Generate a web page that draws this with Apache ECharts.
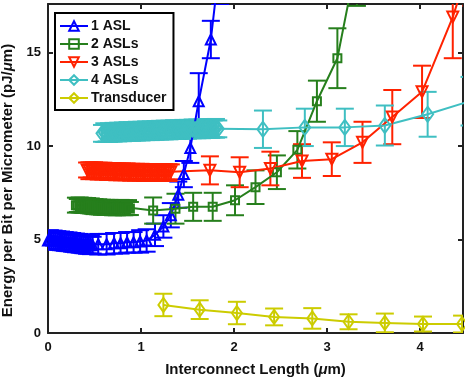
<!DOCTYPE html>
<html>
<head>
<meta charset="utf-8">
<script src="https://cdn.jsdelivr.net/npm/echarts@6/dist/echarts.min.js"></script>
<style>
  html, body { margin: 0; padding: 0; background: #fff; }
  #chart { width: 465px; height: 383px; }
</style>
</head>
<body>
<div id="chart"></div>
<script>
// 1 ASL: dense sweep, then the marked points
var asl1DenseX = [0.00,0.02,0.04,0.06,0.08,0.10,0.12,0.14,0.16,0.18,0.20,0.22,0.24,0.26,0.28,0.30,0.32,0.34,0.36,0.38,0.40,0.42,0.44,0.46,0.48];
var asl1DenseY = [4.95,5.00,4.95,4.98,4.93,4.95,4.90,4.93,4.88,4.90,4.85,4.88,4.83,4.85,4.80,4.82,4.78,4.80,4.75,4.77,4.72,4.74,4.70,4.72,4.70];
var asl1DenseE = [0.45,0.50,0.45,0.50,0.45,0.50,0.45,0.50,0.45,0.50,0.45,0.50,0.45,0.50,0.45,0.50,0.45,0.50,0.45,0.50,0.45,0.50,0.45,0.50,0.45];
var asl1X = [0.54,0.63,0.71,0.78,0.85,0.92,0.99,1.06,1.15,1.24,1.32,1.40,1.46,1.53,1.62,1.75,1.85];
var asl1Y = [4.75,4.75,4.80,4.80,4.85,4.85,4.90,4.95,5.25,5.70,6.30,7.40,8.50,9.90,12.40,15.70,20.00];
var asl1E = [0.55,0.55,0.55,0.55,0.55,0.55,0.60,0.60,0.60,0.60,0.65,0.70,0.70,0.80,1.50,1.00,2.40];

// 2 ASLs
var asl2DenseX = [0.30,0.32,0.34,0.36,0.38,0.40,0.42,0.44,0.46,0.48,0.50,0.52,0.54,0.56,0.58,0.60,0.62,0.64,0.66,0.68,0.70,0.72,0.74,0.76,0.78,0.80,0.82,0.84,0.86,0.88];
var asl2DenseY = [6.84,6.82,6.85,6.80,6.83,6.78,6.82,6.76,6.80,6.74,6.76,6.72,6.75,6.70,6.73,6.70,6.72,6.68,6.72,6.68,6.70,6.66,6.70,6.68,6.72,6.66,6.70,6.68,6.71,6.66];
var asl2DenseE = [0.40,0.35,0.40,0.35,0.40,0.35,0.40,0.35,0.40,0.35,0.40,0.35,0.40,0.35,0.40,0.35,0.40,0.35,0.40,0.35,0.40,0.35,0.40,0.35,0.40,0.35,0.40,0.35,0.40,0.35];
var asl2X = [1.13,1.37,1.56,1.77,2.01,2.23,2.46,2.68,2.89,3.11,3.32];
var asl2Y = [6.55,6.65,6.75,6.75,7.10,7.80,8.60,9.80,12.40,14.70,20.00];
var asl2E = [0.70,0.80,0.75,0.75,0.80,0.90,0.90,1.00,1.10,1.60,2.50];

// 3 ASLs
var asl3DenseX = [0.42,0.445,0.47,0.495,0.52,0.545,0.57,0.595,0.62,0.645,0.67,0.695,0.72,0.745,0.77,0.795,0.82,0.845,0.87,0.895,0.92,0.945,0.97,0.995,1.02,1.045,1.07,1.095,1.12,1.145,1.17,1.195,1.22,1.245,1.27,1.295,1.32];
var asl3DenseY = [8.72,8.68,8.72,8.68,8.70,8.66,8.70,8.66,8.68,8.64,8.68,8.64,8.66,8.62,8.66,8.62,8.65,8.62,8.64,8.60,8.64,8.60,8.63,8.60,8.62,8.58,8.62,8.58,8.62,8.58,8.60,8.58,8.62,8.58,8.60,8.58,8.62];
var asl3DenseE = [0.40,0.45,0.40,0.45,0.40,0.45,0.40,0.45,0.40,0.45,0.40,0.45,0.40,0.45,0.40,0.45,0.40,0.45,0.40,0.45,0.40,0.45,0.40,0.45,0.40,0.45,0.40,0.45,0.40,0.45,0.40,0.45,0.40,0.45,0.40,0.45,0.40];
var asl3X = [1.74,2.06,2.39,2.73,3.05,3.38,3.70,4.02,4.35,4.55];
var asl3Y = [8.70,8.60,8.80,9.20,9.30,10.20,11.55,12.90,16.90,20.00];
var asl3E = [0.75,0.80,0.90,0.90,0.90,1.10,1.45,1.40,2.20,2.50];

// 4 ASLs
var asl4DenseX = [0.58,0.605,0.63,0.655,0.68,0.705,0.73,0.755,0.78,0.805,0.83,0.855,0.88,0.905,0.93,0.955,0.98,1.005,1.03,1.055,1.08,1.105,1.13,1.155,1.18,1.205,1.23,1.255,1.28,1.305,1.33,1.355,1.38,1.405,1.43,1.455,1.48,1.505,1.53,1.555,1.58,1.605,1.63,1.655,1.68,1.705,1.73,1.755,1.78,1.805,1.83];
var asl4DenseY = [10.68,10.72,10.70,10.72,10.70,10.74,10.72,10.75,10.72,10.76,10.74,10.78,10.75,10.78,10.76,10.80,10.78,10.80,10.78,10.82,10.80,10.82,10.80,10.84,10.82,10.85,10.82,10.86,10.84,10.86,10.84,10.88,10.85,10.88,10.86,10.90,10.86,10.90,10.88,10.92,10.88,10.92,10.90,10.92,10.90,10.94,10.90,10.94,10.92,10.95,10.92];
var asl4DenseE = [0.45,0.50,0.45,0.50,0.45,0.50,0.45,0.50,0.45,0.50,0.45,0.50,0.45,0.50,0.45,0.50,0.45,0.50,0.45,0.50,0.45,0.50,0.45,0.50,0.45,0.50,0.45,0.50,0.45,0.50,0.45,0.50,0.45,0.50,0.45,0.50,0.45,0.50,0.45,0.50,0.45,0.50,0.45,0.50,0.45,0.50,0.45,0.50,0.45,0.50,0.45];
var asl4X = [2.31,2.76,3.19,3.62,4.08,4.53];
var asl4Y = [10.90,11.00,11.00,11.10,11.70,12.40];
var asl4E = [1.00,1.00,1.00,1.07,1.20,1.30];

// Transducer
var trX = [1.24,1.63,2.03,2.43,2.84,3.23,3.62,4.03,4.45];
var trY = [1.50,1.25,1.07,0.86,0.78,0.60,0.54,0.48,0.48];
var trE = [0.60,0.50,0.60,0.45,0.55,0.40,0.50,0.40,0.45];

var names = ['1 ASL', '2 ASLs', '3 ASLs', '4 ASLs', 'Transducer'];
var colors = ['#0000ff', '#267f1c', '#ff2200', '#3fbfc2', '#cccc00'];
var xTicks = [0, 1, 2, 3, 4];
var yTicks = [0, 5, 10, 15];

function pairs(xs, ys) {
    return xs.map(function (x, i) { return [x, ys[i]]; });
}
function bars(xs, ys, es) {
    return xs.map(function (x, i) { return [x, ys[i] - es[i], ys[i] + es[i]]; });
}

// error bars drawn with a custom series
function errorSeries(name, color, data) {
    return {
        name: name + ' err',
        type: 'custom',
        clip: true,
        silent: true,
        data: data,
        renderItem: function (params, api) {
            var x = api.value(0);
            var top = api.coord([x, api.value(2)]);
            var bot = api.coord([x, api.value(1)]);
            var w = 9;
            var st = { stroke: color, lineWidth: 2 };
            return {
                type: 'group',
                children: [
                    { type: 'line', shape: { x1: top[0], y1: top[1], x2: bot[0], y2: bot[1] }, style: st },
                    { type: 'line', shape: { x1: top[0] - w, y1: top[1], x2: top[0] + w, y2: top[1] }, style: st },
                    { type: 'line', shape: { x1: bot[0] - w, y1: bot[1], x2: bot[0] + w, y2: bot[1] }, style: st }
                ]
            };
        }
    };
}

function lineSeries(name, color, data, symbol, size, rotate) {
    return {
        name: name,
        type: 'line',
        data: data,
        symbol: symbol,
        symbolSize: size,
        symbolRotate: rotate || 0,
        showAllSymbol: true,
        clip: true,
        lineStyle: { color: color, width: 2 },
        itemStyle: { color: 'rgba(255,255,255,0)', borderColor: color, borderWidth: 2 }
    };
}

var sets = [
    [asl1DenseX.concat(asl1X), asl1DenseY.concat(asl1Y), asl1DenseE.concat(asl1E), 'triangle', 10, 0],
    [asl2DenseX.concat(asl2X), asl2DenseY.concat(asl2Y), asl2DenseE.concat(asl2E), 'rect', 8, 0],
    [asl3DenseX.concat(asl3X), asl3DenseY.concat(asl3Y), asl3DenseE.concat(asl3E), 'triangle', 11, 180],
    [asl4DenseX.concat(asl4X), asl4DenseY.concat(asl4Y), asl4DenseE.concat(asl4E), 'diamond', [11, 15], 0],
    [trX, trY, trE, 'diamond', [10, 14], 0]
];

var series = [];
sets.forEach(function (s, i) {
    series.push(errorSeries(names[i], colors[i], bars(s[0], s[1], s[2])));
    series.push(lineSeries(names[i], colors[i], pairs(s[0], s[1]), s[3], s[4], s[5]));
});

var labelFmt = function (ticks) {
    return function (v) { return ticks.indexOf(v) >= 0 ? String(v) : ''; };
};
var axisBase = {
    axisLine: { show: true, onZero: false, lineStyle: { color: '#222', width: 2 } },
    axisTick: { show: true, inside: true, length: 5, lineStyle: { color: '#222', width: 2 } },
    splitLine: { show: false }
};

var chart = echarts.init(document.getElementById('chart'));
chart.setOption({
    animation: false,
    backgroundColor: '#fff',
    textStyle: { fontFamily: 'Liberation Sans, Arial, sans-serif' },
    grid: { left: 48, right: 2, top: 4, bottom: 50, containLabel: false, outerBoundsMode: 'none' },
    legend: {
        data: names,
        orient: 'vertical',
        left: 55,
        top: 13,
        itemWidth: 28,
        itemHeight: 12,
        itemGap: 4,
        padding: [6, 7, 5, 4],
        borderColor: '#000',
        borderWidth: 2,
        backgroundColor: '#fff',
        textStyle: { fontSize: 14, fontWeight: 'bold', color: '#111', padding: [0, 0, 0, -2] }
    },
    xAxis: [
        Object.assign({}, axisBase, {
            type: 'value', min: 0, max: 4.46, interval: 1, position: 'bottom',
            name: 'Interconnect Length ({i|μ}m)',
            nameLocation: 'middle', nameGap: 29,
            nameTextStyle: {
                fontSize: 15, fontWeight: 'bold', color: '#111',
                rich: { i: { fontSize: 15, fontStyle: 'italic', color: '#111' } }
            },
            axisLabel: { fontSize: 13, fontWeight: 'bold', color: '#111', margin: 8, formatter: labelFmt(xTicks) }
        }),
        Object.assign({}, axisBase, {
            type: 'value', min: 0, max: 4.46, interval: 1, position: 'top',
            axisLabel: { show: false }
        })
    ],
    yAxis: [
        Object.assign({}, axisBase, {
            type: 'value', min: 0, max: 17.6, interval: 5, position: 'left',
            name: 'Energy per Bit per Micrometer (pJ/{i|μ}m)',
            nameLocation: 'middle', nameGap: 25,
            nameTextStyle: {
                fontSize: 15, fontWeight: 'bold', color: '#111', padding: [0, 24, 0, 0],
                rich: { i: { fontSize: 15, fontStyle: 'italic', color: '#111' } }
            },
            axisLabel: { fontSize: 13, fontWeight: 'bold', color: '#111', margin: 7, formatter: labelFmt(yTicks) }
        }),
        Object.assign({}, axisBase, {
            type: 'value', min: 0, max: 17.6, interval: 5, position: 'right',
            axisLabel: { show: false }
        })
    ],
    series: series
});
</script>
</body>
</html>
